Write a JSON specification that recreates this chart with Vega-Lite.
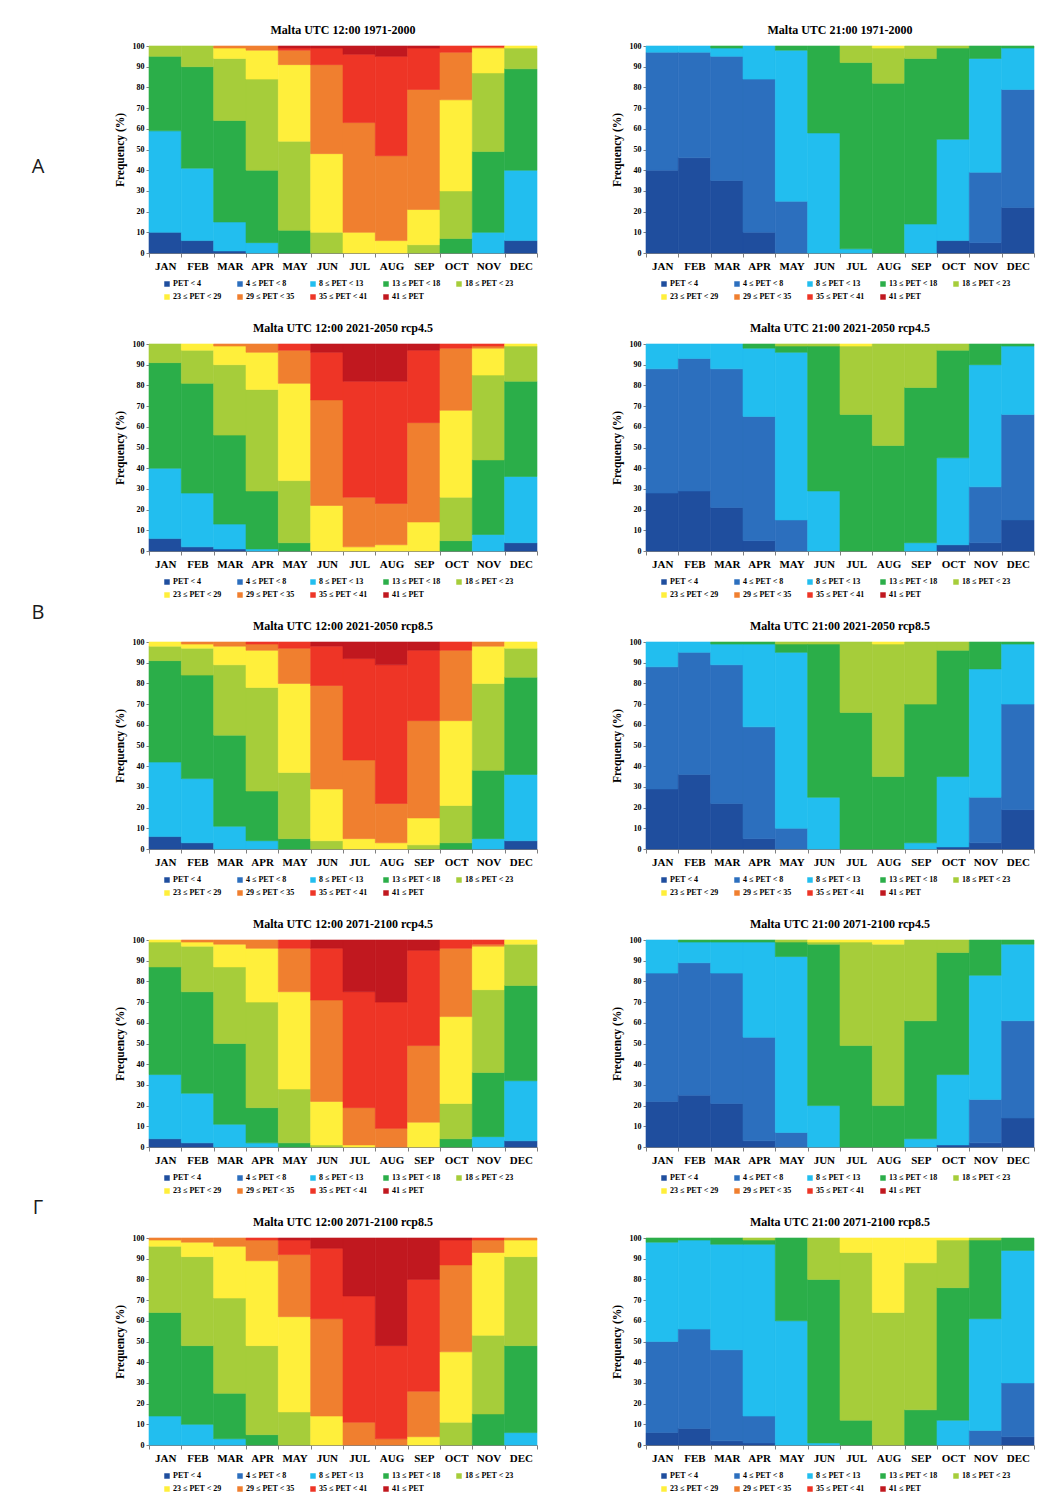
{
"$schema": "https://vega.github.io/schema/vega-lite/v6.json",
"background": "white",
"padding": {"left": 0, "top": 24, "right": 0, "bottom": 0},
"data": {"values": [
{"p":1,"m":"JAN","k":0,"v":10},{"p":1,"m":"JAN","k":2,"v":49},{"p":1,"m":"JAN","k":3,"v":36},{"p":1,"m":"JAN","k":4,"v":5},
{"p":1,"m":"FEB","k":0,"v":6},{"p":1,"m":"FEB","k":2,"v":35},{"p":1,"m":"FEB","k":3,"v":49},{"p":1,"m":"FEB","k":4,"v":10},
{"p":1,"m":"MAR","k":0,"v":1},{"p":1,"m":"MAR","k":2,"v":14},{"p":1,"m":"MAR","k":3,"v":49},{"p":1,"m":"MAR","k":4,"v":30},{"p":1,"m":"MAR","k":5,"v":5},{"p":1,"m":"MAR","k":6,"v":1},
{"p":1,"m":"APR","k":2,"v":5},{"p":1,"m":"APR","k":3,"v":35},{"p":1,"m":"APR","k":4,"v":44},{"p":1,"m":"APR","k":5,"v":14},{"p":1,"m":"APR","k":6,"v":2},
{"p":1,"m":"MAY","k":3,"v":11},{"p":1,"m":"MAY","k":4,"v":43},{"p":1,"m":"MAY","k":5,"v":37},{"p":1,"m":"MAY","k":6,"v":7},{"p":1,"m":"MAY","k":7,"v":1},{"p":1,"m":"MAY","k":8,"v":1},
{"p":1,"m":"JUN","k":4,"v":10},{"p":1,"m":"JUN","k":5,"v":38},{"p":1,"m":"JUN","k":6,"v":43},{"p":1,"m":"JUN","k":7,"v":8},{"p":1,"m":"JUN","k":8,"v":1},
{"p":1,"m":"JUL","k":5,"v":10},{"p":1,"m":"JUL","k":6,"v":53},{"p":1,"m":"JUL","k":7,"v":33},{"p":1,"m":"JUL","k":8,"v":4},
{"p":1,"m":"AUG","k":5,"v":6},{"p":1,"m":"AUG","k":6,"v":41},{"p":1,"m":"AUG","k":7,"v":48},{"p":1,"m":"AUG","k":8,"v":5},
{"p":1,"m":"SEP","k":4,"v":4},{"p":1,"m":"SEP","k":5,"v":17},{"p":1,"m":"SEP","k":6,"v":58},{"p":1,"m":"SEP","k":7,"v":20},{"p":1,"m":"SEP","k":8,"v":1},
{"p":1,"m":"OCT","k":3,"v":7},{"p":1,"m":"OCT","k":4,"v":23},{"p":1,"m":"OCT","k":5,"v":44},{"p":1,"m":"OCT","k":6,"v":23},{"p":1,"m":"OCT","k":7,"v":3},
{"p":1,"m":"NOV","k":2,"v":10},{"p":1,"m":"NOV","k":3,"v":39},{"p":1,"m":"NOV","k":4,"v":38},{"p":1,"m":"NOV","k":5,"v":12},{"p":1,"m":"NOV","k":6,"v":0.5},{"p":1,"m":"NOV","k":7,"v":0.5},
{"p":1,"m":"DEC","k":0,"v":6},{"p":1,"m":"DEC","k":2,"v":34},{"p":1,"m":"DEC","k":3,"v":49},{"p":1,"m":"DEC","k":4,"v":10},{"p":1,"m":"DEC","k":5,"v":1},

{"p":2,"m":"JAN","k":0,"v":40},{"p":2,"m":"JAN","k":1,"v":57},{"p":2,"m":"JAN","k":2,"v":3},
{"p":2,"m":"FEB","k":0,"v":46},{"p":2,"m":"FEB","k":1,"v":51},{"p":2,"m":"FEB","k":2,"v":3},
{"p":2,"m":"MAR","k":0,"v":35},{"p":2,"m":"MAR","k":1,"v":60},{"p":2,"m":"MAR","k":2,"v":4},{"p":2,"m":"MAR","k":3,"v":1},
{"p":2,"m":"APR","k":0,"v":10},{"p":2,"m":"APR","k":1,"v":74},{"p":2,"m":"APR","k":2,"v":16},
{"p":2,"m":"MAY","k":1,"v":25},{"p":2,"m":"MAY","k":2,"v":73},{"p":2,"m":"MAY","k":3,"v":2},
{"p":2,"m":"JUN","k":2,"v":58},{"p":2,"m":"JUN","k":3,"v":42},
{"p":2,"m":"JUL","k":2,"v":2},{"p":2,"m":"JUL","k":3,"v":90},{"p":2,"m":"JUL","k":4,"v":8},
{"p":2,"m":"AUG","k":3,"v":82},{"p":2,"m":"AUG","k":4,"v":17},{"p":2,"m":"AUG","k":5,"v":1},
{"p":2,"m":"SEP","k":2,"v":14},{"p":2,"m":"SEP","k":3,"v":80},{"p":2,"m":"SEP","k":4,"v":6},
{"p":2,"m":"OCT","k":0,"v":6},{"p":2,"m":"OCT","k":2,"v":49},{"p":2,"m":"OCT","k":3,"v":44},{"p":2,"m":"OCT","k":4,"v":1},
{"p":2,"m":"NOV","k":0,"v":5},{"p":2,"m":"NOV","k":1,"v":34},{"p":2,"m":"NOV","k":2,"v":55},{"p":2,"m":"NOV","k":3,"v":6},
{"p":2,"m":"DEC","k":0,"v":22},{"p":2,"m":"DEC","k":1,"v":57},{"p":2,"m":"DEC","k":2,"v":20},{"p":2,"m":"DEC","k":3,"v":1},

{"p":3,"m":"JAN","k":0,"v":6},{"p":3,"m":"JAN","k":2,"v":34},{"p":3,"m":"JAN","k":3,"v":51},{"p":3,"m":"JAN","k":4,"v":9},
{"p":3,"m":"FEB","k":0,"v":2},{"p":3,"m":"FEB","k":2,"v":26},{"p":3,"m":"FEB","k":3,"v":53},{"p":3,"m":"FEB","k":4,"v":16},{"p":3,"m":"FEB","k":5,"v":3},
{"p":3,"m":"MAR","k":0,"v":1},{"p":3,"m":"MAR","k":2,"v":12},{"p":3,"m":"MAR","k":3,"v":43},{"p":3,"m":"MAR","k":4,"v":34},{"p":3,"m":"MAR","k":5,"v":9},{"p":3,"m":"MAR","k":6,"v":1},
{"p":3,"m":"APR","k":2,"v":1},{"p":3,"m":"APR","k":3,"v":28},{"p":3,"m":"APR","k":4,"v":49},{"p":3,"m":"APR","k":5,"v":18},{"p":3,"m":"APR","k":6,"v":4},
{"p":3,"m":"MAY","k":3,"v":4},{"p":3,"m":"MAY","k":4,"v":30},{"p":3,"m":"MAY","k":5,"v":47},{"p":3,"m":"MAY","k":6,"v":16},{"p":3,"m":"MAY","k":7,"v":3},
{"p":3,"m":"JUN","k":5,"v":22},{"p":3,"m":"JUN","k":6,"v":51},{"p":3,"m":"JUN","k":7,"v":23},{"p":3,"m":"JUN","k":8,"v":4},
{"p":3,"m":"JUL","k":5,"v":2},{"p":3,"m":"JUL","k":6,"v":24},{"p":3,"m":"JUL","k":7,"v":56},{"p":3,"m":"JUL","k":8,"v":18},
{"p":3,"m":"AUG","k":5,"v":3},{"p":3,"m":"AUG","k":6,"v":20},{"p":3,"m":"AUG","k":7,"v":59},{"p":3,"m":"AUG","k":8,"v":18},
{"p":3,"m":"SEP","k":5,"v":14},{"p":3,"m":"SEP","k":6,"v":48},{"p":3,"m":"SEP","k":7,"v":35},{"p":3,"m":"SEP","k":8,"v":3},
{"p":3,"m":"OCT","k":3,"v":5},{"p":3,"m":"OCT","k":4,"v":21},{"p":3,"m":"OCT","k":5,"v":42},{"p":3,"m":"OCT","k":6,"v":30},{"p":3,"m":"OCT","k":7,"v":2},
{"p":3,"m":"NOV","k":2,"v":8},{"p":3,"m":"NOV","k":3,"v":36},{"p":3,"m":"NOV","k":4,"v":41},{"p":3,"m":"NOV","k":5,"v":13},{"p":3,"m":"NOV","k":6,"v":1},{"p":3,"m":"NOV","k":7,"v":1},
{"p":3,"m":"DEC","k":0,"v":4},{"p":3,"m":"DEC","k":2,"v":32},{"p":3,"m":"DEC","k":3,"v":46},{"p":3,"m":"DEC","k":4,"v":17},{"p":3,"m":"DEC","k":5,"v":1},

{"p":4,"m":"JAN","k":0,"v":28},{"p":4,"m":"JAN","k":1,"v":60},{"p":4,"m":"JAN","k":2,"v":12},
{"p":4,"m":"FEB","k":0,"v":29},{"p":4,"m":"FEB","k":1,"v":64},{"p":4,"m":"FEB","k":2,"v":7},
{"p":4,"m":"MAR","k":0,"v":21},{"p":4,"m":"MAR","k":1,"v":67},{"p":4,"m":"MAR","k":2,"v":12},
{"p":4,"m":"APR","k":0,"v":5},{"p":4,"m":"APR","k":1,"v":60},{"p":4,"m":"APR","k":2,"v":33},{"p":4,"m":"APR","k":3,"v":2},
{"p":4,"m":"MAY","k":1,"v":15},{"p":4,"m":"MAY","k":2,"v":81},{"p":4,"m":"MAY","k":3,"v":3},{"p":4,"m":"MAY","k":4,"v":1},
{"p":4,"m":"JUN","k":2,"v":29},{"p":4,"m":"JUN","k":3,"v":70},{"p":4,"m":"JUN","k":4,"v":1},
{"p":4,"m":"JUL","k":3,"v":66},{"p":4,"m":"JUL","k":4,"v":33},{"p":4,"m":"JUL","k":5,"v":1},
{"p":4,"m":"AUG","k":3,"v":51},{"p":4,"m":"AUG","k":4,"v":49},
{"p":4,"m":"SEP","k":2,"v":4},{"p":4,"m":"SEP","k":3,"v":75},{"p":4,"m":"SEP","k":4,"v":21},
{"p":4,"m":"OCT","k":0,"v":3},{"p":4,"m":"OCT","k":2,"v":42},{"p":4,"m":"OCT","k":3,"v":52},{"p":4,"m":"OCT","k":4,"v":3},
{"p":4,"m":"NOV","k":0,"v":4},{"p":4,"m":"NOV","k":1,"v":27},{"p":4,"m":"NOV","k":2,"v":59},{"p":4,"m":"NOV","k":3,"v":10},
{"p":4,"m":"DEC","k":0,"v":15},{"p":4,"m":"DEC","k":1,"v":51},{"p":4,"m":"DEC","k":2,"v":33},{"p":4,"m":"DEC","k":3,"v":1},

{"p":5,"m":"JAN","k":0,"v":6},{"p":5,"m":"JAN","k":2,"v":36},{"p":5,"m":"JAN","k":3,"v":49},{"p":5,"m":"JAN","k":4,"v":7},{"p":5,"m":"JAN","k":5,"v":2},
{"p":5,"m":"FEB","k":0,"v":3},{"p":5,"m":"FEB","k":2,"v":31},{"p":5,"m":"FEB","k":3,"v":50},{"p":5,"m":"FEB","k":4,"v":13},{"p":5,"m":"FEB","k":5,"v":2},{"p":5,"m":"FEB","k":6,"v":1},
{"p":5,"m":"MAR","k":2,"v":11},{"p":5,"m":"MAR","k":3,"v":44},{"p":5,"m":"MAR","k":4,"v":34},{"p":5,"m":"MAR","k":5,"v":9},{"p":5,"m":"MAR","k":6,"v":2},
{"p":5,"m":"APR","k":2,"v":4},{"p":5,"m":"APR","k":3,"v":24},{"p":5,"m":"APR","k":4,"v":50},{"p":5,"m":"APR","k":5,"v":18},{"p":5,"m":"APR","k":6,"v":3},{"p":5,"m":"APR","k":7,"v":1},
{"p":5,"m":"MAY","k":3,"v":5},{"p":5,"m":"MAY","k":4,"v":32},{"p":5,"m":"MAY","k":5,"v":43},{"p":5,"m":"MAY","k":6,"v":17},{"p":5,"m":"MAY","k":7,"v":3},
{"p":5,"m":"JUN","k":4,"v":4},{"p":5,"m":"JUN","k":5,"v":25},{"p":5,"m":"JUN","k":6,"v":50},{"p":5,"m":"JUN","k":7,"v":19},{"p":5,"m":"JUN","k":8,"v":2},
{"p":5,"m":"JUL","k":5,"v":5},{"p":5,"m":"JUL","k":6,"v":38},{"p":5,"m":"JUL","k":7,"v":49},{"p":5,"m":"JUL","k":8,"v":8},
{"p":5,"m":"AUG","k":5,"v":3},{"p":5,"m":"AUG","k":6,"v":19},{"p":5,"m":"AUG","k":7,"v":67},{"p":5,"m":"AUG","k":8,"v":11},
{"p":5,"m":"SEP","k":4,"v":2},{"p":5,"m":"SEP","k":5,"v":13},{"p":5,"m":"SEP","k":6,"v":47},{"p":5,"m":"SEP","k":7,"v":34},{"p":5,"m":"SEP","k":8,"v":4},
{"p":5,"m":"OCT","k":3,"v":3},{"p":5,"m":"OCT","k":4,"v":18},{"p":5,"m":"OCT","k":5,"v":41},{"p":5,"m":"OCT","k":6,"v":34},{"p":5,"m":"OCT","k":7,"v":4},
{"p":5,"m":"NOV","k":2,"v":5},{"p":5,"m":"NOV","k":3,"v":33},{"p":5,"m":"NOV","k":4,"v":42},{"p":5,"m":"NOV","k":5,"v":18},{"p":5,"m":"NOV","k":6,"v":2},
{"p":5,"m":"DEC","k":0,"v":4},{"p":5,"m":"DEC","k":2,"v":32},{"p":5,"m":"DEC","k":3,"v":47},{"p":5,"m":"DEC","k":4,"v":14},{"p":5,"m":"DEC","k":5,"v":3},

{"p":6,"m":"JAN","k":0,"v":29},{"p":6,"m":"JAN","k":1,"v":59},{"p":6,"m":"JAN","k":2,"v":12},
{"p":6,"m":"FEB","k":0,"v":36},{"p":6,"m":"FEB","k":1,"v":59},{"p":6,"m":"FEB","k":2,"v":5},
{"p":6,"m":"MAR","k":0,"v":22},{"p":6,"m":"MAR","k":1,"v":67},{"p":6,"m":"MAR","k":2,"v":10},{"p":6,"m":"MAR","k":3,"v":1},
{"p":6,"m":"APR","k":0,"v":5},{"p":6,"m":"APR","k":1,"v":54},{"p":6,"m":"APR","k":2,"v":40},{"p":6,"m":"APR","k":3,"v":1},
{"p":6,"m":"MAY","k":1,"v":10},{"p":6,"m":"MAY","k":2,"v":85},{"p":6,"m":"MAY","k":3,"v":4},{"p":6,"m":"MAY","k":4,"v":1},
{"p":6,"m":"JUN","k":2,"v":25},{"p":6,"m":"JUN","k":3,"v":74},{"p":6,"m":"JUN","k":4,"v":1},
{"p":6,"m":"JUL","k":3,"v":66},{"p":6,"m":"JUL","k":4,"v":34},
{"p":6,"m":"AUG","k":3,"v":35},{"p":6,"m":"AUG","k":4,"v":64},{"p":6,"m":"AUG","k":5,"v":1},
{"p":6,"m":"SEP","k":2,"v":3},{"p":6,"m":"SEP","k":3,"v":67},{"p":6,"m":"SEP","k":4,"v":30},
{"p":6,"m":"OCT","k":0,"v":1},{"p":6,"m":"OCT","k":2,"v":34},{"p":6,"m":"OCT","k":3,"v":61},{"p":6,"m":"OCT","k":4,"v":4},
{"p":6,"m":"NOV","k":0,"v":3},{"p":6,"m":"NOV","k":1,"v":22},{"p":6,"m":"NOV","k":2,"v":62},{"p":6,"m":"NOV","k":3,"v":13},
{"p":6,"m":"DEC","k":0,"v":19},{"p":6,"m":"DEC","k":1,"v":51},{"p":6,"m":"DEC","k":2,"v":29},{"p":6,"m":"DEC","k":3,"v":1},

{"p":7,"m":"JAN","k":0,"v":4},{"p":7,"m":"JAN","k":2,"v":31},{"p":7,"m":"JAN","k":3,"v":52},{"p":7,"m":"JAN","k":4,"v":12},{"p":7,"m":"JAN","k":5,"v":1},
{"p":7,"m":"FEB","k":0,"v":2},{"p":7,"m":"FEB","k":2,"v":24},{"p":7,"m":"FEB","k":3,"v":49},{"p":7,"m":"FEB","k":4,"v":22},{"p":7,"m":"FEB","k":5,"v":2},{"p":7,"m":"FEB","k":6,"v":1},
{"p":7,"m":"MAR","k":2,"v":11},{"p":7,"m":"MAR","k":3,"v":39},{"p":7,"m":"MAR","k":4,"v":37},{"p":7,"m":"MAR","k":5,"v":11},{"p":7,"m":"MAR","k":6,"v":2},
{"p":7,"m":"APR","k":2,"v":2},{"p":7,"m":"APR","k":3,"v":17},{"p":7,"m":"APR","k":4,"v":51},{"p":7,"m":"APR","k":5,"v":26},{"p":7,"m":"APR","k":6,"v":4},
{"p":7,"m":"MAY","k":3,"v":2},{"p":7,"m":"MAY","k":4,"v":26},{"p":7,"m":"MAY","k":5,"v":47},{"p":7,"m":"MAY","k":6,"v":21},{"p":7,"m":"MAY","k":7,"v":4},
{"p":7,"m":"JUN","k":4,"v":1},{"p":7,"m":"JUN","k":5,"v":21},{"p":7,"m":"JUN","k":6,"v":49},{"p":7,"m":"JUN","k":7,"v":25},{"p":7,"m":"JUN","k":8,"v":4},
{"p":7,"m":"JUL","k":5,"v":1},{"p":7,"m":"JUL","k":6,"v":18},{"p":7,"m":"JUL","k":7,"v":56},{"p":7,"m":"JUL","k":8,"v":25},
{"p":7,"m":"AUG","k":6,"v":9},{"p":7,"m":"AUG","k":7,"v":61},{"p":7,"m":"AUG","k":8,"v":30},
{"p":7,"m":"SEP","k":5,"v":12},{"p":7,"m":"SEP","k":6,"v":37},{"p":7,"m":"SEP","k":7,"v":46},{"p":7,"m":"SEP","k":8,"v":5},
{"p":7,"m":"OCT","k":3,"v":4},{"p":7,"m":"OCT","k":4,"v":17},{"p":7,"m":"OCT","k":5,"v":42},{"p":7,"m":"OCT","k":6,"v":33},{"p":7,"m":"OCT","k":7,"v":4},
{"p":7,"m":"NOV","k":2,"v":5},{"p":7,"m":"NOV","k":3,"v":31},{"p":7,"m":"NOV","k":4,"v":40},{"p":7,"m":"NOV","k":5,"v":21},{"p":7,"m":"NOV","k":6,"v":1},{"p":7,"m":"NOV","k":7,"v":2},
{"p":7,"m":"DEC","k":0,"v":3},{"p":7,"m":"DEC","k":2,"v":29},{"p":7,"m":"DEC","k":3,"v":46},{"p":7,"m":"DEC","k":4,"v":20},{"p":7,"m":"DEC","k":5,"v":2},

{"p":8,"m":"JAN","k":0,"v":22},{"p":8,"m":"JAN","k":1,"v":62},{"p":8,"m":"JAN","k":2,"v":16},
{"p":8,"m":"FEB","k":0,"v":25},{"p":8,"m":"FEB","k":1,"v":64},{"p":8,"m":"FEB","k":2,"v":10},{"p":8,"m":"FEB","k":3,"v":1},
{"p":8,"m":"MAR","k":0,"v":21},{"p":8,"m":"MAR","k":1,"v":63},{"p":8,"m":"MAR","k":2,"v":15},{"p":8,"m":"MAR","k":3,"v":1},
{"p":8,"m":"APR","k":0,"v":3},{"p":8,"m":"APR","k":1,"v":50},{"p":8,"m":"APR","k":2,"v":46},{"p":8,"m":"APR","k":3,"v":1},
{"p":8,"m":"MAY","k":1,"v":7},{"p":8,"m":"MAY","k":2,"v":85},{"p":8,"m":"MAY","k":3,"v":7},{"p":8,"m":"MAY","k":4,"v":1},
{"p":8,"m":"JUN","k":2,"v":20},{"p":8,"m":"JUN","k":3,"v":78},{"p":8,"m":"JUN","k":4,"v":1},{"p":8,"m":"JUN","k":5,"v":1},
{"p":8,"m":"JUL","k":3,"v":49},{"p":8,"m":"JUL","k":4,"v":50},{"p":8,"m":"JUL","k":5,"v":1},
{"p":8,"m":"AUG","k":3,"v":20},{"p":8,"m":"AUG","k":4,"v":78},{"p":8,"m":"AUG","k":5,"v":2},
{"p":8,"m":"SEP","k":2,"v":4},{"p":8,"m":"SEP","k":3,"v":57},{"p":8,"m":"SEP","k":4,"v":39},
{"p":8,"m":"OCT","k":0,"v":1},{"p":8,"m":"OCT","k":2,"v":34},{"p":8,"m":"OCT","k":3,"v":59},{"p":8,"m":"OCT","k":4,"v":6},
{"p":8,"m":"NOV","k":0,"v":2},{"p":8,"m":"NOV","k":1,"v":21},{"p":8,"m":"NOV","k":2,"v":60},{"p":8,"m":"NOV","k":3,"v":17},
{"p":8,"m":"DEC","k":0,"v":14},{"p":8,"m":"DEC","k":1,"v":47},{"p":8,"m":"DEC","k":2,"v":37},{"p":8,"m":"DEC","k":3,"v":2},

{"p":9,"m":"JAN","k":2,"v":14},{"p":9,"m":"JAN","k":3,"v":50},{"p":9,"m":"JAN","k":4,"v":32},{"p":9,"m":"JAN","k":5,"v":3},{"p":9,"m":"JAN","k":6,"v":1},
{"p":9,"m":"FEB","k":2,"v":10},{"p":9,"m":"FEB","k":3,"v":38},{"p":9,"m":"FEB","k":4,"v":43},{"p":9,"m":"FEB","k":5,"v":7},{"p":9,"m":"FEB","k":6,"v":2},
{"p":9,"m":"MAR","k":2,"v":3},{"p":9,"m":"MAR","k":3,"v":22},{"p":9,"m":"MAR","k":4,"v":46},{"p":9,"m":"MAR","k":5,"v":25},{"p":9,"m":"MAR","k":6,"v":4},
{"p":9,"m":"APR","k":3,"v":5},{"p":9,"m":"APR","k":4,"v":43},{"p":9,"m":"APR","k":5,"v":41},{"p":9,"m":"APR","k":6,"v":10},{"p":9,"m":"APR","k":7,"v":1},
{"p":9,"m":"MAY","k":4,"v":16},{"p":9,"m":"MAY","k":5,"v":46},{"p":9,"m":"MAY","k":6,"v":30},{"p":9,"m":"MAY","k":7,"v":7},{"p":9,"m":"MAY","k":8,"v":1},
{"p":9,"m":"JUN","k":5,"v":14},{"p":9,"m":"JUN","k":6,"v":47},{"p":9,"m":"JUN","k":7,"v":34},{"p":9,"m":"JUN","k":8,"v":5},
{"p":9,"m":"JUL","k":6,"v":11},{"p":9,"m":"JUL","k":7,"v":61},{"p":9,"m":"JUL","k":8,"v":28},
{"p":9,"m":"AUG","k":6,"v":3},{"p":9,"m":"AUG","k":7,"v":45},{"p":9,"m":"AUG","k":8,"v":52},
{"p":9,"m":"SEP","k":5,"v":4},{"p":9,"m":"SEP","k":6,"v":22},{"p":9,"m":"SEP","k":7,"v":54},{"p":9,"m":"SEP","k":8,"v":20},
{"p":9,"m":"OCT","k":4,"v":11},{"p":9,"m":"OCT","k":5,"v":34},{"p":9,"m":"OCT","k":6,"v":42},{"p":9,"m":"OCT","k":7,"v":12},{"p":9,"m":"OCT","k":8,"v":1},
{"p":9,"m":"NOV","k":3,"v":15},{"p":9,"m":"NOV","k":4,"v":38},{"p":9,"m":"NOV","k":5,"v":40},{"p":9,"m":"NOV","k":6,"v":6},{"p":9,"m":"NOV","k":7,"v":1},
{"p":9,"m":"DEC","k":2,"v":6},{"p":9,"m":"DEC","k":3,"v":42},{"p":9,"m":"DEC","k":4,"v":43},{"p":9,"m":"DEC","k":5,"v":8},{"p":9,"m":"DEC","k":6,"v":1},

{"p":10,"m":"JAN","k":0,"v":6},{"p":10,"m":"JAN","k":1,"v":44},{"p":10,"m":"JAN","k":2,"v":48},{"p":10,"m":"JAN","k":3,"v":2},
{"p":10,"m":"FEB","k":0,"v":8},{"p":10,"m":"FEB","k":1,"v":48},{"p":10,"m":"FEB","k":2,"v":43},{"p":10,"m":"FEB","k":3,"v":1},
{"p":10,"m":"MAR","k":0,"v":2},{"p":10,"m":"MAR","k":1,"v":44},{"p":10,"m":"MAR","k":2,"v":51},{"p":10,"m":"MAR","k":3,"v":3},
{"p":10,"m":"APR","k":0,"v":1},{"p":10,"m":"APR","k":1,"v":13},{"p":10,"m":"APR","k":2,"v":83},{"p":10,"m":"APR","k":3,"v":2},{"p":10,"m":"APR","k":4,"v":1},
{"p":10,"m":"MAY","k":2,"v":60},{"p":10,"m":"MAY","k":3,"v":40},
{"p":10,"m":"JUN","k":2,"v":1},{"p":10,"m":"JUN","k":3,"v":79},{"p":10,"m":"JUN","k":4,"v":20},
{"p":10,"m":"JUL","k":3,"v":12},{"p":10,"m":"JUL","k":4,"v":81},{"p":10,"m":"JUL","k":5,"v":7},
{"p":10,"m":"AUG","k":4,"v":64},{"p":10,"m":"AUG","k":5,"v":36},
{"p":10,"m":"SEP","k":3,"v":17},{"p":10,"m":"SEP","k":4,"v":71},{"p":10,"m":"SEP","k":5,"v":12},
{"p":10,"m":"OCT","k":2,"v":12},{"p":10,"m":"OCT","k":3,"v":64},{"p":10,"m":"OCT","k":4,"v":23},{"p":10,"m":"OCT","k":5,"v":1},
{"p":10,"m":"NOV","k":1,"v":7},{"p":10,"m":"NOV","k":2,"v":54},{"p":10,"m":"NOV","k":3,"v":38},{"p":10,"m":"NOV","k":4,"v":1},
{"p":10,"m":"DEC","k":0,"v":4},{"p":10,"m":"DEC","k":1,"v":26},{"p":10,"m":"DEC","k":2,"v":64},{"p":10,"m":"DEC","k":3,"v":6}
]},
"spacing": 38,
"resolve": {"scale": {"color": "independent"}, "legend": {"color": "independent"}},
"hconcat": [
{
"data": {"values": [{"l":"A","r":0.5},{"l":"B","r":2},{"l":"Γ","r":4}]},
"width": 76, "height": 1476,
"mark": {"type": "text", "font": "Open Sans", "fontSize": 20, "color": "#1a1a1a", "baseline": "middle", "align": "center"},
"encoding": {
"y": {"field": "r", "type": "quantitative", "scale": {"domain": [0.094, 5.054], "reverse": true}, "axis": null},
"text": {"field": "l"}
}
},
{
"spacing": 21,
"resolve": {"scale": {"color": "independent"}, "legend": {"color": "independent"}},
"vconcat": [
{"spacing": 73, "resolve": {"scale": {"color": "independent"}, "legend": {"color": "independent"}}, "hconcat": [
{"title": "Malta UTC 12:00 1971-2000", "transform": [{"filter": "datum.p == 1"}], "width": 388, "height": 207, "mark": {"type": "bar", "strokeWidth": 0.6},
"encoding": {"x": {"field": "m", "type": "nominal", "sort": ["JAN","FEB","MAR","APR","MAY","JUN","JUL","AUG","SEP","OCT","NOV","DEC"], "scale": {"paddingInner": 0, "paddingOuter": 0}, "axis": {"title": null, "labelAngle": 0, "tickBand": "extent"}},
"y": {"field": "v", "type": "quantitative", "stack": "zero", "scale": {"domain": [0, 100], "nice": false}, "axis": {"title": "Frequency (%)", "values": [0,10,20,30,40,50,60,70,80,90,100], "grid": false}},
"color": {"field": "k", "type": "nominal", "scale": {"domain": [0,1,2,3,4,5,6,7,8], "range": ["#1F4E9E","#2C6FBE","#22BEEF","#2BAE49","#A6CD3A","#FFEF3B","#F07F2F","#EE3526","#C1181F"]}, "legend": {"title": null, "labelExpr": "['PET < 4','4 ≤ PET < 8','8 ≤ PET < 13','13 ≤ PET < 18','18 ≤ PET < 23','23 ≤ PET < 29','29 ≤ PET < 35','35 ≤ PET < 41','41 ≤ PET'][datum.value]"}},
"stroke": {"field": "k", "type": "nominal", "scale": {"domain": [0,1,2,3,4,5,6,7,8], "range": ["#1F4E9E","#2C6FBE","#22BEEF","#2BAE49","#A6CD3A","#FFEF3B","#F07F2F","#EE3526","#C1181F"]}, "legend": null},
"order": {"field": "k", "type": "quantitative"}}},
{"title": "Malta UTC 21:00 1971-2000", "transform": [{"filter": "datum.p == 2"}], "width": 388, "height": 207, "mark": {"type": "bar", "strokeWidth": 0.6},
"encoding": {"x": {"field": "m", "type": "nominal", "sort": ["JAN","FEB","MAR","APR","MAY","JUN","JUL","AUG","SEP","OCT","NOV","DEC"], "scale": {"paddingInner": 0, "paddingOuter": 0}, "axis": {"title": null, "labelAngle": 0, "tickBand": "extent"}},
"y": {"field": "v", "type": "quantitative", "stack": "zero", "scale": {"domain": [0, 100], "nice": false}, "axis": {"title": "Frequency (%)", "values": [0,10,20,30,40,50,60,70,80,90,100], "grid": false}},
"color": {"field": "k", "type": "nominal", "scale": {"domain": [0,1,2,3,4,5,6,7,8], "range": ["#1F4E9E","#2C6FBE","#22BEEF","#2BAE49","#A6CD3A","#FFEF3B","#F07F2F","#EE3526","#C1181F"]}, "legend": {"title": null, "labelExpr": "['PET < 4','4 ≤ PET < 8','8 ≤ PET < 13','13 ≤ PET < 18','18 ≤ PET < 23','23 ≤ PET < 29','29 ≤ PET < 35','35 ≤ PET < 41','41 ≤ PET'][datum.value]"}},
"stroke": {"field": "k", "type": "nominal", "scale": {"domain": [0,1,2,3,4,5,6,7,8], "range": ["#1F4E9E","#2C6FBE","#22BEEF","#2BAE49","#A6CD3A","#FFEF3B","#F07F2F","#EE3526","#C1181F"]}, "legend": null},
"order": {"field": "k", "type": "quantitative"}}}
]},
{"spacing": 73, "resolve": {"scale": {"color": "independent"}, "legend": {"color": "independent"}}, "hconcat": [
{"title": "Malta UTC 12:00 2021-2050 rcp4.5", "transform": [{"filter": "datum.p == 3"}], "width": 388, "height": 207, "mark": {"type": "bar", "strokeWidth": 0.6},
"encoding": {"x": {"field": "m", "type": "nominal", "sort": ["JAN","FEB","MAR","APR","MAY","JUN","JUL","AUG","SEP","OCT","NOV","DEC"], "scale": {"paddingInner": 0, "paddingOuter": 0}, "axis": {"title": null, "labelAngle": 0, "tickBand": "extent"}},
"y": {"field": "v", "type": "quantitative", "stack": "zero", "scale": {"domain": [0, 100], "nice": false}, "axis": {"title": "Frequency (%)", "values": [0,10,20,30,40,50,60,70,80,90,100], "grid": false}},
"color": {"field": "k", "type": "nominal", "scale": {"domain": [0,1,2,3,4,5,6,7,8], "range": ["#1F4E9E","#2C6FBE","#22BEEF","#2BAE49","#A6CD3A","#FFEF3B","#F07F2F","#EE3526","#C1181F"]}, "legend": {"title": null, "labelExpr": "['PET < 4','4 ≤ PET < 8','8 ≤ PET < 13','13 ≤ PET < 18','18 ≤ PET < 23','23 ≤ PET < 29','29 ≤ PET < 35','35 ≤ PET < 41','41 ≤ PET'][datum.value]"}},
"stroke": {"field": "k", "type": "nominal", "scale": {"domain": [0,1,2,3,4,5,6,7,8], "range": ["#1F4E9E","#2C6FBE","#22BEEF","#2BAE49","#A6CD3A","#FFEF3B","#F07F2F","#EE3526","#C1181F"]}, "legend": null},
"order": {"field": "k", "type": "quantitative"}}},
{"title": "Malta UTC 21:00 2021-2050 rcp4.5", "transform": [{"filter": "datum.p == 4"}], "width": 388, "height": 207, "mark": {"type": "bar", "strokeWidth": 0.6},
"encoding": {"x": {"field": "m", "type": "nominal", "sort": ["JAN","FEB","MAR","APR","MAY","JUN","JUL","AUG","SEP","OCT","NOV","DEC"], "scale": {"paddingInner": 0, "paddingOuter": 0}, "axis": {"title": null, "labelAngle": 0, "tickBand": "extent"}},
"y": {"field": "v", "type": "quantitative", "stack": "zero", "scale": {"domain": [0, 100], "nice": false}, "axis": {"title": "Frequency (%)", "values": [0,10,20,30,40,50,60,70,80,90,100], "grid": false}},
"color": {"field": "k", "type": "nominal", "scale": {"domain": [0,1,2,3,4,5,6,7,8], "range": ["#1F4E9E","#2C6FBE","#22BEEF","#2BAE49","#A6CD3A","#FFEF3B","#F07F2F","#EE3526","#C1181F"]}, "legend": {"title": null, "labelExpr": "['PET < 4','4 ≤ PET < 8','8 ≤ PET < 13','13 ≤ PET < 18','18 ≤ PET < 23','23 ≤ PET < 29','29 ≤ PET < 35','35 ≤ PET < 41','41 ≤ PET'][datum.value]"}},
"stroke": {"field": "k", "type": "nominal", "scale": {"domain": [0,1,2,3,4,5,6,7,8], "range": ["#1F4E9E","#2C6FBE","#22BEEF","#2BAE49","#A6CD3A","#FFEF3B","#F07F2F","#EE3526","#C1181F"]}, "legend": null},
"order": {"field": "k", "type": "quantitative"}}}
]},
{"spacing": 73, "resolve": {"scale": {"color": "independent"}, "legend": {"color": "independent"}}, "hconcat": [
{"title": "Malta UTC 12:00 2021-2050 rcp8.5", "transform": [{"filter": "datum.p == 5"}], "width": 388, "height": 207, "mark": {"type": "bar", "strokeWidth": 0.6},
"encoding": {"x": {"field": "m", "type": "nominal", "sort": ["JAN","FEB","MAR","APR","MAY","JUN","JUL","AUG","SEP","OCT","NOV","DEC"], "scale": {"paddingInner": 0, "paddingOuter": 0}, "axis": {"title": null, "labelAngle": 0, "tickBand": "extent"}},
"y": {"field": "v", "type": "quantitative", "stack": "zero", "scale": {"domain": [0, 100], "nice": false}, "axis": {"title": "Frequency (%)", "values": [0,10,20,30,40,50,60,70,80,90,100], "grid": false}},
"color": {"field": "k", "type": "nominal", "scale": {"domain": [0,1,2,3,4,5,6,7,8], "range": ["#1F4E9E","#2C6FBE","#22BEEF","#2BAE49","#A6CD3A","#FFEF3B","#F07F2F","#EE3526","#C1181F"]}, "legend": {"title": null, "labelExpr": "['PET < 4','4 ≤ PET < 8','8 ≤ PET < 13','13 ≤ PET < 18','18 ≤ PET < 23','23 ≤ PET < 29','29 ≤ PET < 35','35 ≤ PET < 41','41 ≤ PET'][datum.value]"}},
"stroke": {"field": "k", "type": "nominal", "scale": {"domain": [0,1,2,3,4,5,6,7,8], "range": ["#1F4E9E","#2C6FBE","#22BEEF","#2BAE49","#A6CD3A","#FFEF3B","#F07F2F","#EE3526","#C1181F"]}, "legend": null},
"order": {"field": "k", "type": "quantitative"}}},
{"title": "Malta UTC 21:00 2021-2050 rcp8.5", "transform": [{"filter": "datum.p == 6"}], "width": 388, "height": 207, "mark": {"type": "bar", "strokeWidth": 0.6},
"encoding": {"x": {"field": "m", "type": "nominal", "sort": ["JAN","FEB","MAR","APR","MAY","JUN","JUL","AUG","SEP","OCT","NOV","DEC"], "scale": {"paddingInner": 0, "paddingOuter": 0}, "axis": {"title": null, "labelAngle": 0, "tickBand": "extent"}},
"y": {"field": "v", "type": "quantitative", "stack": "zero", "scale": {"domain": [0, 100], "nice": false}, "axis": {"title": "Frequency (%)", "values": [0,10,20,30,40,50,60,70,80,90,100], "grid": false}},
"color": {"field": "k", "type": "nominal", "scale": {"domain": [0,1,2,3,4,5,6,7,8], "range": ["#1F4E9E","#2C6FBE","#22BEEF","#2BAE49","#A6CD3A","#FFEF3B","#F07F2F","#EE3526","#C1181F"]}, "legend": {"title": null, "labelExpr": "['PET < 4','4 ≤ PET < 8','8 ≤ PET < 13','13 ≤ PET < 18','18 ≤ PET < 23','23 ≤ PET < 29','29 ≤ PET < 35','35 ≤ PET < 41','41 ≤ PET'][datum.value]"}},
"stroke": {"field": "k", "type": "nominal", "scale": {"domain": [0,1,2,3,4,5,6,7,8], "range": ["#1F4E9E","#2C6FBE","#22BEEF","#2BAE49","#A6CD3A","#FFEF3B","#F07F2F","#EE3526","#C1181F"]}, "legend": null},
"order": {"field": "k", "type": "quantitative"}}}
]},
{"spacing": 73, "resolve": {"scale": {"color": "independent"}, "legend": {"color": "independent"}}, "hconcat": [
{"title": "Malta UTC 12:00 2071-2100 rcp4.5", "transform": [{"filter": "datum.p == 7"}], "width": 388, "height": 207, "mark": {"type": "bar", "strokeWidth": 0.6},
"encoding": {"x": {"field": "m", "type": "nominal", "sort": ["JAN","FEB","MAR","APR","MAY","JUN","JUL","AUG","SEP","OCT","NOV","DEC"], "scale": {"paddingInner": 0, "paddingOuter": 0}, "axis": {"title": null, "labelAngle": 0, "tickBand": "extent"}},
"y": {"field": "v", "type": "quantitative", "stack": "zero", "scale": {"domain": [0, 100], "nice": false}, "axis": {"title": "Frequency (%)", "values": [0,10,20,30,40,50,60,70,80,90,100], "grid": false}},
"color": {"field": "k", "type": "nominal", "scale": {"domain": [0,1,2,3,4,5,6,7,8], "range": ["#1F4E9E","#2C6FBE","#22BEEF","#2BAE49","#A6CD3A","#FFEF3B","#F07F2F","#EE3526","#C1181F"]}, "legend": {"title": null, "labelExpr": "['PET < 4','4 ≤ PET < 8','8 ≤ PET < 13','13 ≤ PET < 18','18 ≤ PET < 23','23 ≤ PET < 29','29 ≤ PET < 35','35 ≤ PET < 41','41 ≤ PET'][datum.value]"}},
"stroke": {"field": "k", "type": "nominal", "scale": {"domain": [0,1,2,3,4,5,6,7,8], "range": ["#1F4E9E","#2C6FBE","#22BEEF","#2BAE49","#A6CD3A","#FFEF3B","#F07F2F","#EE3526","#C1181F"]}, "legend": null},
"order": {"field": "k", "type": "quantitative"}}},
{"title": "Malta UTC 21:00 2071-2100 rcp4.5", "transform": [{"filter": "datum.p == 8"}], "width": 388, "height": 207, "mark": {"type": "bar", "strokeWidth": 0.6},
"encoding": {"x": {"field": "m", "type": "nominal", "sort": ["JAN","FEB","MAR","APR","MAY","JUN","JUL","AUG","SEP","OCT","NOV","DEC"], "scale": {"paddingInner": 0, "paddingOuter": 0}, "axis": {"title": null, "labelAngle": 0, "tickBand": "extent"}},
"y": {"field": "v", "type": "quantitative", "stack": "zero", "scale": {"domain": [0, 100], "nice": false}, "axis": {"title": "Frequency (%)", "values": [0,10,20,30,40,50,60,70,80,90,100], "grid": false}},
"color": {"field": "k", "type": "nominal", "scale": {"domain": [0,1,2,3,4,5,6,7,8], "range": ["#1F4E9E","#2C6FBE","#22BEEF","#2BAE49","#A6CD3A","#FFEF3B","#F07F2F","#EE3526","#C1181F"]}, "legend": {"title": null, "labelExpr": "['PET < 4','4 ≤ PET < 8','8 ≤ PET < 13','13 ≤ PET < 18','18 ≤ PET < 23','23 ≤ PET < 29','29 ≤ PET < 35','35 ≤ PET < 41','41 ≤ PET'][datum.value]"}},
"stroke": {"field": "k", "type": "nominal", "scale": {"domain": [0,1,2,3,4,5,6,7,8], "range": ["#1F4E9E","#2C6FBE","#22BEEF","#2BAE49","#A6CD3A","#FFEF3B","#F07F2F","#EE3526","#C1181F"]}, "legend": null},
"order": {"field": "k", "type": "quantitative"}}}
]},
{"spacing": 73, "resolve": {"scale": {"color": "independent"}, "legend": {"color": "independent"}}, "hconcat": [
{"title": "Malta UTC 12:00 2071-2100 rcp8.5", "transform": [{"filter": "datum.p == 9"}], "width": 388, "height": 207, "mark": {"type": "bar", "strokeWidth": 0.6},
"encoding": {"x": {"field": "m", "type": "nominal", "sort": ["JAN","FEB","MAR","APR","MAY","JUN","JUL","AUG","SEP","OCT","NOV","DEC"], "scale": {"paddingInner": 0, "paddingOuter": 0}, "axis": {"title": null, "labelAngle": 0, "tickBand": "extent"}},
"y": {"field": "v", "type": "quantitative", "stack": "zero", "scale": {"domain": [0, 100], "nice": false}, "axis": {"title": "Frequency (%)", "values": [0,10,20,30,40,50,60,70,80,90,100], "grid": false}},
"color": {"field": "k", "type": "nominal", "scale": {"domain": [0,1,2,3,4,5,6,7,8], "range": ["#1F4E9E","#2C6FBE","#22BEEF","#2BAE49","#A6CD3A","#FFEF3B","#F07F2F","#EE3526","#C1181F"]}, "legend": {"title": null, "labelExpr": "['PET < 4','4 ≤ PET < 8','8 ≤ PET < 13','13 ≤ PET < 18','18 ≤ PET < 23','23 ≤ PET < 29','29 ≤ PET < 35','35 ≤ PET < 41','41 ≤ PET'][datum.value]"}},
"stroke": {"field": "k", "type": "nominal", "scale": {"domain": [0,1,2,3,4,5,6,7,8], "range": ["#1F4E9E","#2C6FBE","#22BEEF","#2BAE49","#A6CD3A","#FFEF3B","#F07F2F","#EE3526","#C1181F"]}, "legend": null},
"order": {"field": "k", "type": "quantitative"}}},
{"title": "Malta UTC 21:00 2071-2100 rcp8.5", "transform": [{"filter": "datum.p == 10"}], "width": 388, "height": 207, "mark": {"type": "bar", "strokeWidth": 0.6},
"encoding": {"x": {"field": "m", "type": "nominal", "sort": ["JAN","FEB","MAR","APR","MAY","JUN","JUL","AUG","SEP","OCT","NOV","DEC"], "scale": {"paddingInner": 0, "paddingOuter": 0}, "axis": {"title": null, "labelAngle": 0, "tickBand": "extent"}},
"y": {"field": "v", "type": "quantitative", "stack": "zero", "scale": {"domain": [0, 100], "nice": false}, "axis": {"title": "Frequency (%)", "values": [0,10,20,30,40,50,60,70,80,90,100], "grid": false}},
"color": {"field": "k", "type": "nominal", "scale": {"domain": [0,1,2,3,4,5,6,7,8], "range": ["#1F4E9E","#2C6FBE","#22BEEF","#2BAE49","#A6CD3A","#FFEF3B","#F07F2F","#EE3526","#C1181F"]}, "legend": {"title": null, "labelExpr": "['PET < 4','4 ≤ PET < 8','8 ≤ PET < 13','13 ≤ PET < 18','18 ≤ PET < 23','23 ≤ PET < 29','29 ≤ PET < 35','35 ≤ PET < 41','41 ≤ PET'][datum.value]"}},
"stroke": {"field": "k", "type": "nominal", "scale": {"domain": [0,1,2,3,4,5,6,7,8], "range": ["#1F4E9E","#2C6FBE","#22BEEF","#2BAE49","#A6CD3A","#FFEF3B","#F07F2F","#EE3526","#C1181F"]}, "legend": null},
"order": {"field": "k", "type": "quantitative"}}}
]}
]
}
],
"config": {
"view": {"stroke": null},
"axis": {"labelFont": "Liberation Serif", "labelFontWeight": "bold", "labelColor": "#000", "titleFont": "Liberation Serif", "titleFontWeight": "bold", "titleColor": "#000", "domainColor": "#7f7f7f", "tickColor": "#7f7f7f"},
"axisX": {"labelFontSize": 11, "tickSize": 4, "labelPadding": 3},
"axisY": {"labelFontSize": 8, "titleFontSize": 11.5, "tickSize": 3, "labelPadding": 2, "titlePadding": 7},
"title": {"font": "Liberation Serif", "fontSize": 12, "fontWeight": "bold", "color": "#000", "offset": 5},
"legend": {"orient": "none", "legendX": 14, "legendY": 234, "direction": "horizontal", "columns": 5, "symbolType": "square", "symbolSize": 30, "symbolStrokeWidth": 0, "labelFont": "Liberation Serif", "labelFontSize": 8, "labelFontWeight": "bold", "labelColor": "#000", "columnPadding": 14, "rowPadding": 5, "gridAlign": "all", "labelOffset": 2, "padding": 0, "symbolOffset": 0}
}
}
